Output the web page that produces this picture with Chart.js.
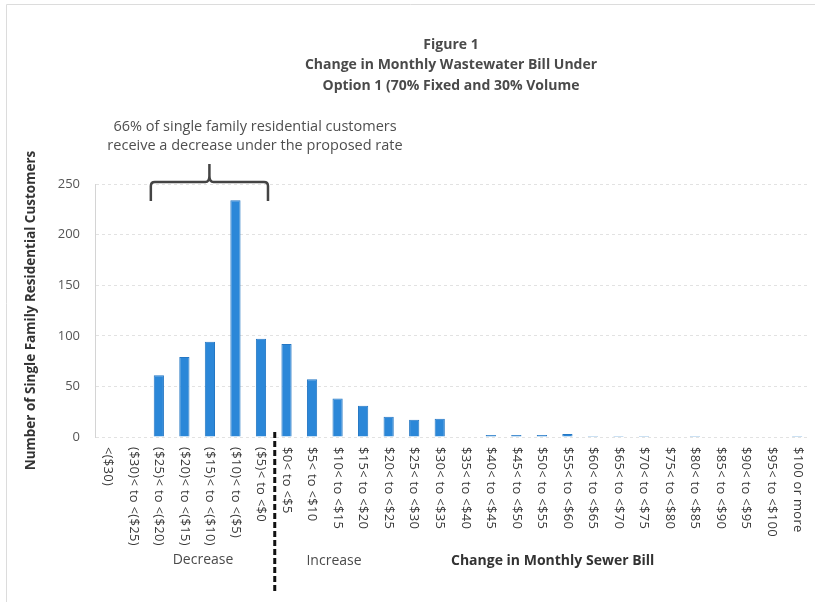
<!DOCTYPE html>
<html><head><meta charset="utf-8">
<script src="https://cdn.jsdelivr.net/npm/chart.js@4"></script>
<style>html,body{margin:0;padding:0;background:#fff}#wrap{width:820px;height:608px;position:relative}</style>
</head><body><div id="wrap"><canvas id="c" width="820" height="608"></canvas></div>
<script>
const categories = ["<($30)","($30)< to <($25)","($25)< to <($20)","($20)< to <($15)","($15)< to <($10)","($10)< to <($5)","($5)< to <$0","$0< to <$5","$5< to <$10","$10< to <$15","$15< to <$20","$20< to <$25","$25< to <$30","$30< to <$35","$35< to <$40","$40< to <$45","$45< to <$50","$50< to <$55","$55< to <$60","$60< to <$65","$65< to <$70","$70< to <$75","$75< to <$80","$80< to <$85","$85< to <$90","$90< to <$95","$95< to <$100","$100 or more"];
const customers = [0,0,61,79,94,234,97,92,57,38,31,20,17,18,0.5,2,2,2,3,1,1,1,0.5,1,0.5,0.5,0.5,1];
const yTicks = [0,50,100,150,200,250];
const titleLines = ["Figure 1","Change in Monthly Wastewater Bill Under","Option 1 (70% Fixed and 30% Volume"];
const noteLines = ["66% of single family residential customers","receive a decrease under the proposed rate"];
const yTitle = "Number of Single Family Residential Customers";
const xTitle = "Change in Monthly Sewer Bill";
const groupLabels = ["Decrease","Increase"];

const FONT = "'Open Sans', 'Noto Sans', sans-serif";

const decor = {
  id: 'decor',
  afterDraw(chart) {
    const ctx = chart.ctx;
    const x = chart.scales.x;
    const area = chart.chartArea;
    ctx.save();
    // frame
    ctx.strokeStyle = '#dcdcdc'; ctx.lineWidth = 1;
    ctx.beginPath(); ctx.moveTo(6.5, 602); ctx.lineTo(6.5, 4.5); ctx.lineTo(815, 4.5); ctx.stroke();
    // title
    ctx.fillStyle = '#4a4a4a'; ctx.textAlign = 'center'; ctx.textBaseline = 'middle';
    ctx.font = "bold 14px " + FONT;
    const ty = [45, 65, 86];
    titleLines.forEach((t, i) => ctx.fillText(t, 451, ty[i]));
    // note
    ctx.font = "14.5px " + FONT; ctx.fillStyle = '#4f4f4f';
    noteLines.forEach((t, i) => ctx.fillText(t, 255, 127 + i * 19));
    // brace over decrease group
    const bl = x.getPixelForValue(2) - 8, br = x.getPixelForValue(6) + 7;
    const bm = (bl + br) / 2;
    ctx.strokeStyle = '#444'; ctx.lineWidth = 2.5; ctx.lineJoin = 'round';
    ctx.beginPath();
    ctx.moveTo(bl, 201); ctx.lineTo(bl, 186); ctx.quadraticCurveTo(bl, 182, bl + 4, 182);
    ctx.lineTo(bm - 4, 182); ctx.quadraticCurveTo(bm, 182, bm, 176); ctx.lineTo(bm, 164);
    ctx.moveTo(bm, 176); ctx.quadraticCurveTo(bm, 182, bm + 4, 182);
    ctx.lineTo(br - 4, 182); ctx.quadraticCurveTo(br, 182, br, 186); ctx.lineTo(br, 201);
    ctx.stroke();
    // category labels rotated clockwise
    ctx.fillStyle = '#383838'; ctx.font = "13px " + FONT;
    try { ctx.letterSpacing = '0.3px'; } catch (e) {}
    ctx.textAlign = 'left'; ctx.textBaseline = 'middle';
    categories.forEach((c, i) => {
      ctx.save();
      ctx.translate(x.getPixelForValue(i), area.bottom + 10);
      ctx.rotate(Math.PI / 2);
      ctx.fillText(c, 0, 0);
      ctx.restore();
    });
    try { ctx.letterSpacing = '0px'; } catch (e) {}
    // divider between decrease and increase
    const dx = (x.getPixelForValue(6) + x.getPixelForValue(7)) / 2 + 1;
    ctx.strokeStyle = '#111'; ctx.lineWidth = 3; ctx.setLineDash([6, 3]);
    ctx.beginPath(); ctx.moveTo(dx, area.bottom - 5); ctx.lineTo(dx, 592); ctx.stroke();
    ctx.setLineDash([]);
    // group labels
    ctx.fillStyle = '#4a4a4a'; ctx.font = "14px " + FONT; ctx.textAlign = 'center';
    ctx.fillText(groupLabels[0], 203, 560);
    ctx.fillText(groupLabels[1], 334, 561);
    ctx.font = "bold 14px " + FONT; ctx.textAlign = 'left'; ctx.fillStyle = '#333';
    ctx.fillText(xTitle, 451, 561);
    ctx.restore();
  }
};

new Chart(document.getElementById('c'), {
  type: 'bar',
  data: {
    labels: categories,
    datasets: [{ data: customers, backgroundColor: '#2b87d8', borderColor: '#2477c4', borderWidth: 1, barPercentage: 0.4, categoryPercentage: 1 }]
  },
  options: {
    responsive: false, animation: false,
    layout: { padding: { left: 20, right: 10, top: 184, bottom: 171 } },
    plugins: { legend: { display: false }, tooltip: { enabled: false } },
    scales: {
      x: { display: false },
      y: {
        min: 0, max: 250,
        afterFit(s) { s.width = 75; },
        afterBuildTicks(s) { s.ticks = yTicks.map(v => ({ value: v })); },
        grid: { color: '#e2e2e2', drawTicks: false, lineWidth: 1 },
        border: { display: true, color: '#d4d4d4', dash: [3, 3] },
        ticks: { padding: 15, color: '#555', font: { family: FONT, size: 13 } },
        title: { display: true, text: yTitle, color: '#333', padding: { top: 3, bottom: 0 }, font: { family: FONT, size: 13.5, weight: 'bold' } }
      }
    }
  },
  plugins: [decor]
});
</script></body></html>
